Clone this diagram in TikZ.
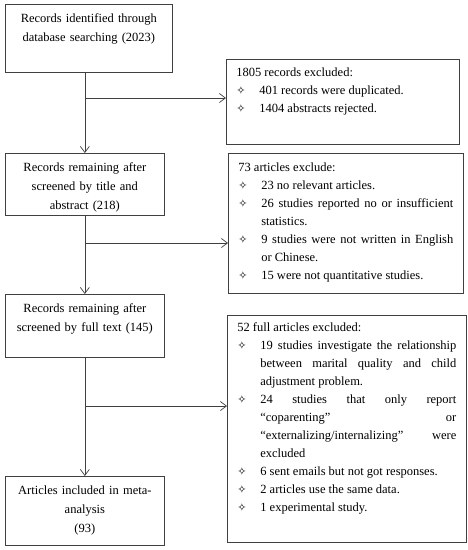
\documentclass[tikz,border=0pt]{standalone}
\usepackage{fontspec}
\setmainfont{Liberation Serif}
\newfontfamily\starfont{DejaVu Sans}
\usetikzlibrary{arrows.meta}
\hyphenpenalty=10000
\tolerance=10000

\newcommand{\exclitem}[1]{\par\noindent\hangindent=23pt\hangafter=1\relax
    \hbox to 23pt{{\starfont\fontsize{11}{11}\selectfont ✧}\hfil}#1}

\tikzset{
    stage/.style={draw=black!75, line width=0.7pt, anchor=north west, align=center,
        inner xsep=4pt, inner ysep=6pt, text height=12.5pt, font=\fontsize{12.5}{18.7}\selectfont},
    excluded/.style={draw=black!75, line width=0.7pt, anchor=north west, align=justify,
        inner xsep=10pt, inner ysep=6pt, text height=11.5pt, font=\fontsize{12.5}{18}\selectfont},
    flow/.style={draw=black!75, line width=0.7pt, -{Straight Barb[length=6pt,width=9pt]}}
}

\begin{document}
\begin{tikzpicture}[x=1pt, y=-1pt]
    \useasboundingbox (0,0) rectangle (467,550);
    \node[stage, text width=159pt, text depth=43.5pt] (found) at (5,4)
        {Records identified through\\database searching (2023)};
    \node[stage, text width=151pt, text depth=37.5pt] (screened) at (5,153)
        {Records remaining after\\screened by title and\\abstract (218)};
    \node[stage, text width=151pt, text depth=38.5pt] (fulltext) at (5,294)
        {Records remaining after\\screened by full text (145)};
    \node[stage, text width=151pt, text depth=44.5pt] (included) at (5,476)
        {Articles included in meta-\\analysis\\(93)};

    \node[excluded, text width=213pt, text depth=61.5pt] (duplicates) at (226,59) {%
        1805 records excluded:
        \exclitem{401 records were duplicated.}
        \exclitem{1404 abstracts rejected.}};
    \node[excluded, text width=215pt, text depth=115.5pt, text height=12.5pt] (titleout) at (228,153) {%
        73 articles exclude:
        \exclitem{23 no relevant articles.}
        \exclitem{26 studies reported no or insufficient \linebreak statistics.}
        \exclitem{9 studies were not written in English \linebreak or Chinese.}
        \exclitem{15 were not quantitative studies.}};
    \node[excluded, text width=219pt, text depth=204.5pt, text height=10.5pt] (fullout) at (227,315) {%
        52 full articles excluded:
        \exclitem{19 studies investigate the relationship \linebreak between marital quality and child \linebreak adjustment problem.}
        \exclitem{24 studies that only report \linebreak “coparenting” or \linebreak “externalizing/internalizing” were \linebreak excluded}
        \exclitem{6 sent emails but not got responses.}
        \exclitem{2 articles use the same data.}
        \exclitem{1 experimental study.}};

    \coordinate (split1) at (84.5,98);
    \coordinate (split2) at (84.5,243);
    \coordinate (split3) at (84.5,406);

    \draw[flow] (screened.north |- found.south) -- (screened.north);
    \draw[flow] (screened.south) -- (fulltext.north);
    \draw[flow] (fulltext.south) -- (included.north);
    \draw[flow] (split1) -- (split1 -| duplicates.west);
    \draw[flow] (split2) -- (split2 -| titleout.west);
    \draw[flow] (split3) -- (split3 -| fullout.west);
\end{tikzpicture}
\end{document}
